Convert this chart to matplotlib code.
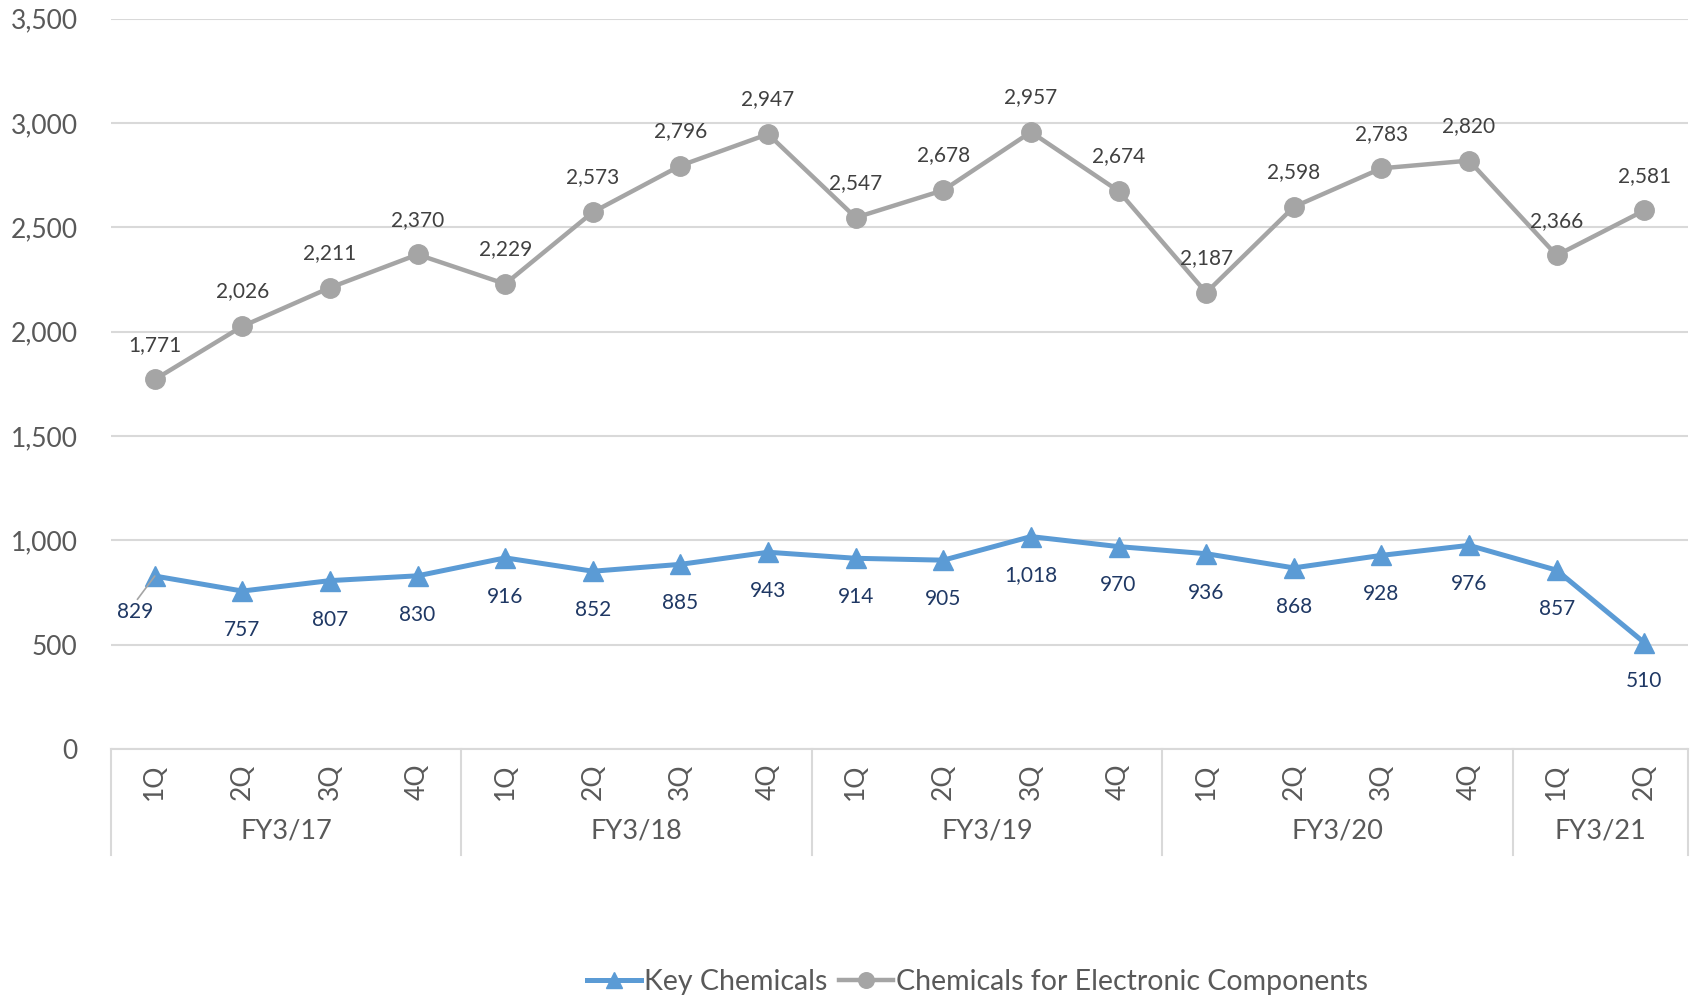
import matplotlib
matplotlib.use("Agg")
import matplotlib.pyplot as plt
import matplotlib.transforms as mtransforms
import numpy as np

plt.rcParams['font.family'] = ['Lato', 'DejaVu Sans']

quarters = ['1Q', '2Q', '3Q', '4Q'] * 4 + ['1Q', '2Q']
years = ['FY3/17', 'FY3/18', 'FY3/19', 'FY3/20', 'FY3/21']
year_counts = [4, 4, 4, 4, 2]
key_chemicals = [829, 757, 807, 830, 916, 852, 885, 943, 914, 905, 1018, 970, 936, 868, 928, 976, 857, 510]
electronic = [1771, 2026, 2211, 2370, 2229, 2573, 2796, 2947, 2547, 2678, 2957, 2674, 2187, 2598, 2783, 2820, 2366, 2581]

blue = '#5B9BD5'
grey = '#A5A5A5'
grid_col = '#D9D9D9'
tick_col = '#595959'

fig = plt.figure(figsize=(16.94, 9.96), dpi=100)
ax = fig.add_axes([0.0655, 0.248, 0.931, 0.7332])

x = np.arange(len(quarters))
ax.plot(x, key_chemicals, color=blue, lw=3.6, marker='^', ms=15, label='Key Chemicals', zorder=3)
ax.plot(x, electronic, color=grey, lw=3.2, marker='o', ms=14, label='Chemicals for Electronic Components', zorder=3)

for i, v in enumerate(electronic):
    ax.annotate(f'{v:,}', (i, v), xytext=(0, 25), textcoords='offset points',
                ha='center', va='center', fontsize=15, color='#404040')

for i, v in enumerate(key_chemicals):
    if i == 0:
        ax.annotate(f'{v:,}', (i, v), xytext=(-14, -26), textcoords='offset points',
                    ha='center', va='center', fontsize=15, color='#1F3864',
                    arrowprops=dict(arrowstyle='-', color='#A5A5A5', lw=1.2, shrinkA=0, shrinkB=0,
                                    relpos=(0.5, 1.0)))
    else:
        ax.annotate(f'{v:,}', (i, v), xytext=(0, -28), textcoords='offset points',
                    ha='center', va='center', fontsize=15, color='#1F3864')

ax.set_xlim(-0.5, len(quarters) - 0.5)
ax.set_ylim(0, 3500)
ax.set_yticks(np.arange(0, 3501, 500))
ax.yaxis.set_major_formatter(matplotlib.ticker.FuncFormatter(lambda v, p: f'{int(v):,}'))
ax.tick_params(axis='y', length=0, labelsize=19, labelcolor=tick_col, pad=24)
ax.set_xticks([])
ax.grid(axis='y', color=grid_col, lw=1.5)
ax.set_axisbelow(True)
for s in ['top', 'right', 'left']:
    ax.spines[s].set_visible(False)
ax.spines['bottom'].set_color(grid_col)
ax.spines['bottom'].set_linewidth(1.5)

# two-level category axis
trans = mtransforms.blended_transform_factory(ax.transData, ax.transAxes)
for i, q in enumerate(quarters):
    ax.text(i, -0.045, q, transform=trans, rotation=90, ha='center', va='center',
            fontsize=19, color=tick_col, clip_on=False)

edges = np.concatenate([[0], np.cumsum(year_counts)]) - 0.5
for e in edges:
    ax.plot([e, e], [0, -0.145], transform=trans, color=grid_col, lw=1.5, clip_on=False)
for y, a, b in zip(years, edges[:-1], edges[1:]):
    ax.text((a + b) / 2, -0.112, y, transform=trans, ha='center', va='center',
            fontsize=19.5, color=tick_col, clip_on=False)

fig.legend(loc='center', bbox_to_anchor=(0.577, 0.014), ncol=2, frameon=False,
           fontsize=20.5, labelcolor=tick_col, handlelength=1.9, handletextpad=0.1,
           columnspacing=0.4, markerscale=0.8)

fig.savefig('out.png', dpi=100)
